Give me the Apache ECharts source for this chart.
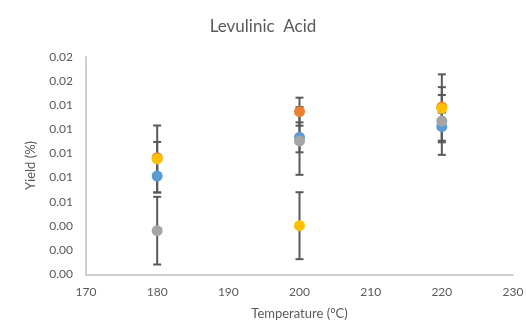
<!DOCTYPE html>
<html>
<head>
<meta charset="utf-8">
<script src="https://cdn.jsdelivr.net/npm/echarts@6/dist/echarts.min.js"></script>
<style>
  html, body { margin: 0; padding: 0; background: #fff; }
  #chart { width: 526px; height: 324px; }
</style>
</head>
<body>
<div id="chart"></div>
<script>
// 数据
const temperatures = [180, 200, 220];
const yTicks = [0, 0.002, 0.004, 0.006, 0.008, 0.010, 0.012, 0.014, 0.016, 0.018];

const blueYield = [0.00813, 0.01133, 0.01221];
const blueErr = [0.00136, 0.00124, 0.00116];
const orangeYield = [0.00964, 0.01345, 0.01384];
const orangeErr = [0.00131, 0.00116, 0.00099];
const grayYield = [0.00361, 0.01103, 0.01268];
const grayErr = [0.00280, 0.00280, 0.00280];
const yellowYield = [0.00954, 0.00402, 0.01373];
const yellowErr = [0.00277, 0.00277, 0.00281];

const seriesList = [
    { name: 'Series1', color: '#5B9BD5', values: blueYield, errors: blueErr },
    { name: 'Series2', color: '#ED7D31', values: orangeYield, errors: orangeErr },
    { name: 'Series3', color: '#A5A5A5', values: grayYield, errors: grayErr },
    { name: 'Series4', color: '#FFC000', values: yellowYield, errors: yellowErr }
];

const textColor = '#595959';
const fontFamily = 'Lato, "Open Sans", "DejaVu Sans", sans-serif';

// 误差线
function renderErrorBar(params, api) {
    const x = api.value(0);
    const top = api.coord([x, api.value(2)]);
    const bottom = api.coord([x, api.value(1)]);
    const half = 4;
    const style = { stroke: '#595959', lineWidth: 2 };
    return {
        type: 'group',
        children: [
            { type: 'line', shape: { x1: top[0], y1: top[1], x2: bottom[0], y2: bottom[1] }, style: style },
            { type: 'line', shape: { x1: top[0] - half, y1: top[1], x2: top[0] + half, y2: top[1] }, style: style },
            { type: 'line', shape: { x1: bottom[0] - half, y1: bottom[1], x2: bottom[0] + half, y2: bottom[1] }, style: style }
        ]
    };
}

const series = [];
seriesList.forEach(function(s) {
    series.push({
        name: s.name + ' error',
        type: 'custom',
        renderItem: renderErrorBar,
        z: 1,
        silent: true,
        data: temperatures.map(function(t, i) {
            return [t, s.values[i] - s.errors[i], s.values[i] + s.errors[i]];
        })
    });
});
seriesList.forEach(function(s) {
    series.push({
        name: s.name,
        type: 'scatter',
        symbolSize: 11,
        z: 5,
        itemStyle: { color: s.color, opacity: 1 },
        data: temperatures.map(function(t, i) { return [t, s.values[i]]; })
    });
});

const myChart = echarts.init(document.getElementById('chart'));
myChart.setOption({
    animation: false,
    title: {
        text: 'Levulinic  Acid',
        left: 'center',
        top: 13,
        textStyle: { color: textColor, fontSize: 17, fontWeight: 'normal', fontFamily: fontFamily }
    },
    grid: { left: 86, right: 13, top: 56.7, bottom: 49.7, outerBoundsMode: 'none' },
    xAxis: {
        type: 'value',
        min: 170,
        max: 230,
        interval: 10,
        name: 'Temperature (°C)',
        nameLocation: 'middle',
        nameGap: 33,
        nameTextStyle: { color: textColor, fontSize: 13, fontFamily: fontFamily },
        axisLine: { lineStyle: { color: '#BFBFBF', width: 1.5 } },
        axisTick: { show: false },
        splitLine: { show: false },
        axisLabel: { color: textColor, fontSize: 12, margin: 12, fontFamily: fontFamily }
    },
    yAxis: {
        type: 'value',
        min: yTicks[0],
        max: yTicks[yTicks.length - 1],
        interval: yTicks[1] - yTicks[0],
        name: 'Yield (%)',
        nameLocation: 'middle',
        nameGap: 49,
        nameTextStyle: { color: textColor, fontSize: 13, fontFamily: fontFamily },
        axisLine: { show: true, lineStyle: { color: '#BFBFBF', width: 1.5 } },
        axisTick: { show: false },
        splitLine: { show: false },
        axisLabel: {
            color: textColor, fontSize: 12, margin: 13, fontFamily: fontFamily,
            formatter: function(v) { return v.toFixed(2); }
        }
    },
    series: series
});
</script>
</body>
</html>
